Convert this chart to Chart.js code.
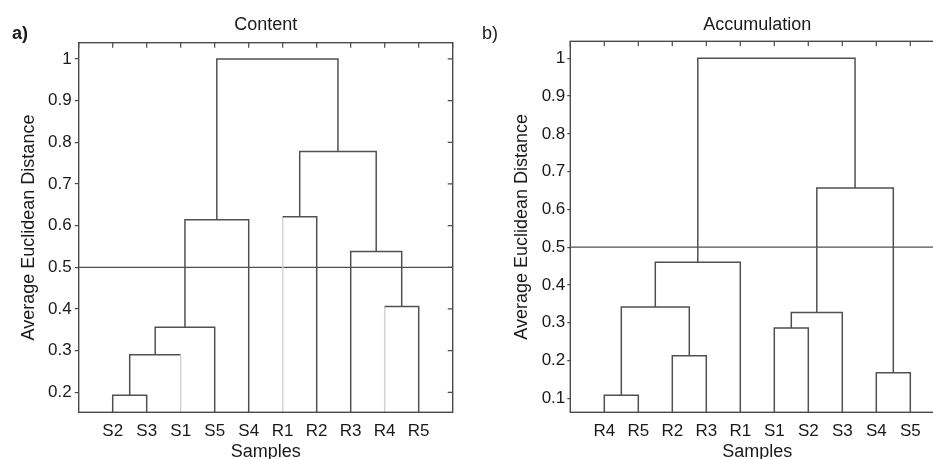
<!DOCTYPE html>
<html>
<head>
<meta charset="utf-8">
<script src="https://cdn.jsdelivr.net/npm/chart.js@4.4.1/dist/chart.umd.min.js"></script>
<style>
    html, body { margin: 0; padding: 0; background: #fff; }
    body { width: 933px; height: 459px; overflow: hidden; position: relative; }
    canvas { position: absolute; top: 0; }
    #contentChart { left: 0; }
    #accChart { left: 466px; }
</style>
</head>
<body>
<canvas id="contentChart" width="466" height="470"></canvas>
<canvas id="accChart" width="490" height="470"></canvas>
<script>
/* ===== Data ===== */

// leaf order as drawn on the x axis
var contentLeaves = ['S2', 'S3', 'S1', 'S5', 'S4', 'R1', 'R2', 'R3', 'R4', 'R5'];
// links: [left node, right node, height]; leaves are 1..10, clusters 11.. in order
var contentLinks = [
    [1, 2, 0.193],
    [11, 3, 0.290],
    [12, 4, 0.356],
    [13, 5, 0.614],
    [6, 7, 0.621],
    [9, 10, 0.406],
    [8, 16, 0.538],
    [15, 17, 0.778],
    [14, 18, 1.000]
];

var accLeaves = ['R4', 'R5', 'R2', 'R3', 'R1', 'S1', 'S2', 'S3', 'S4', 'S5'];
var accLinks = [
    [1, 2, 0.108],
    [3, 4, 0.213],
    [11, 12, 0.342],
    [13, 5, 0.460],
    [6, 7, 0.286],
    [15, 8, 0.327],
    [9, 10, 0.168],
    [16, 17, 0.657],
    [14, 18, 1.000]
];

var cutHeight = 0.5;
var yTicks = [0.1, 0.2, 0.3, 0.4, 0.5, 0.6, 0.7, 0.8, 0.9, 1];

// leaves whose drop line comes out pale in the original
var contentPale = ['S1', 'R1', 'R4'];
var accPale = [];


/* ===== Style ===== */

var lineColor = '#505050';
var paleColor = '#d2d2d2';
var textColor = '#1a1a1a';
var fontFamily = '"Liberation Sans", Arial, sans-serif';


/* ===== Dendrogram datasets ===== */

function buildDatasets(leaves, links, pale) {
    var n = leaves.length;
    var nodeX = {};
    var nodeH = {};
    leaves.forEach(function(name, i) {
        nodeX[i + 1] = i + 1;
        nodeH[i + 1] = 0;
    });

    var datasets = [];
    links.forEach(function(link, k) {
        var a = link[0], b = link[1], h = link[2];
        var id = n + k + 1;
        nodeX[id] = (nodeX[a] + nodeX[b]) / 2;
        nodeH[id] = h;
        var paleA = a <= n && pale.indexOf(leaves[a - 1]) >= 0;
        var paleB = b <= n && pale.indexOf(leaves[b - 1]) >= 0;
        datasets.push({
            data: [
                { x: nodeX[a], y: nodeH[a] },
                { x: nodeX[a], y: h },
                { x: nodeX[b], y: h },
                { x: nodeX[b], y: nodeH[b] }
            ],
            borderColor: lineColor,
            borderWidth: 1.5,
            pointRadius: 0,
            tension: 0,
            segment: {
                borderColor: function(ctx) {
                    if (ctx.p0DataIndex === 0 && paleA) return paleColor;
                    if (ctx.p0DataIndex === 2 && paleB) return paleColor;
                    return lineColor;
                }
            }
        });
    });

    datasets.push({
        data: [{ x: 0, y: cutHeight }, { x: n + 1, y: cutHeight }],
        borderColor: lineColor,
        borderWidth: 1.3,
        pointRadius: 0
    });
    return datasets;
}


/* ===== Frame, inward ticks, panel text ===== */

var framePlugin = {
    id: 'frame',
    afterDatasetsDraw: function(chart, args, opts) {
        var ctx = chart.ctx;
        var area = chart.chartArea;
        var xs = chart.scales.x;
        var ys = chart.scales.y;
        ctx.save();
        ctx.strokeStyle = '#4a4a4a';
        ctx.lineWidth = 1.4;
        ctx.strokeRect(area.left, area.top, area.right - area.left, area.bottom - area.top);

        ctx.lineWidth = 1.2;
        ctx.beginPath();
        for (var i = 0; i <= opts.leafCount + 1; i++) {
            var px = xs.getPixelForValue(i);
            ctx.moveTo(px, area.top);
            ctx.lineTo(px, area.top + 5);
        }
        ys.ticks.forEach(function(t) {
            var py = ys.getPixelForValue(t.value);
            ctx.moveTo(area.right, py);
            ctx.lineTo(area.right - 5, py);
        });
        ctx.stroke();

        ctx.fillStyle = textColor;
        ctx.font = '18px ' + fontFamily;
        ctx.textBaseline = 'alphabetic';
        ctx.textAlign = 'center';
        ctx.fillText(opts.title, (area.left + area.right) / 2, opts.titleY);
        ctx.textAlign = 'left';
        ctx.font = opts.letterFont + ' ' + fontFamily;
        ctx.fillText(opts.letter, opts.letterX, 39);
        ctx.restore();
    }
};


/* ===== Charts ===== */

function makeChart(canvasId, leaves, links, pale, cfg) {
    var canvas = document.getElementById(canvasId);
    var ticksForAxis = yTicks.filter(function(v) { return v >= cfg.yMin && v <= cfg.yMax; });

    return new Chart(canvas, {
        type: 'line',
        data: { datasets: buildDatasets(leaves, links, pale) },
        options: {
            responsive: false,
            animation: false,
            events: [],
            layout: { padding: { top: cfg.top, right: cfg.right, bottom: 0, left: 0 } },
            plugins: {
                legend: { display: false },
                tooltip: { enabled: false },
                frame: {
                    leafCount: leaves.length,
                    title: cfg.title,
                    titleY: cfg.titleY,
                    letter: cfg.letter,
                    letterX: cfg.letterX,
                    letterFont: cfg.letterFont
                }
            },
            scales: {
                x: {
                    type: 'linear',
                    min: 0,
                    max: leaves.length + 1,
                    grid: { display: false },
                    border: { display: false },
                    afterBuildTicks: function(s) {
                        s.ticks = leaves.map(function(_, i) { return { value: i + 1 }; });
                    },
                    afterFit: function(s) { s.height = cfg.xHeight; },
                    ticks: {
                        autoSkip: false,
                        maxRotation: 0,
                        padding: 0.5,
                        color: textColor,
                        font: { family: fontFamily, size: 17 },
                        callback: function(v) { return leaves[v - 1] || ''; }
                    },
                    title: {
                        display: true,
                        text: 'Samples',
                        color: textColor,
                        font: { family: fontFamily, size: 18, lineHeight: 1.2 },
                        padding: { top: 0, bottom: 7.5 }
                    }
                },
                y: {
                    type: 'linear',
                    min: cfg.yMin,
                    max: cfg.yMax,
                    grid: { drawOnChartArea: false, drawTicks: true, tickLength: cfg.tickLen, color: '#4a4a4a', lineWidth: 1.2 },
                    border: { display: false },
                    afterBuildTicks: function(s) {
                        s.ticks = ticksForAxis.map(function(v) { return { value: v }; });
                    },
                    afterFit: function(s) { s.width = cfg.yWidth; },
                    ticks: {
                        padding: cfg.tickPad,
                        color: textColor,
                        font: { family: fontFamily, size: 17 },
                        callback: function(v) { return String(+v.toFixed(1)); }
                    },
                    title: {
                        display: true,
                        text: 'Average Euclidean Distance',
                        color: textColor,
                        font: { family: fontFamily, size: 18, lineHeight: 1.2 },
                        padding: { top: cfg.yTitlePad, bottom: 0 }
                    }
                }
            }
        },
        plugins: [framePlugin]
    });
}

makeChart('contentChart', contentLeaves, contentLinks, contentPale, {
    title: 'Content', titleY: 29.5, letter: 'a)', letterX: 12, letterFont: 'bold 18px',
    top: 42.7, right: 13.3, yWidth: 78.7, xHeight: 57.7,
    yMin: 0.152, yMax: 1.039, tickLen: 4, tickPad: 3, yTitlePad: 18.5
});

makeChart('accChart', accLeaves, accLinks, accPale, {
    title: 'Accumulation', titleY: 30, letter: 'b)', letterX: 16, letterFont: '18px',
    top: 41.3, right: 11.7, yWidth: 104.3, xHeight: 57.7,
    yMin: 0.063, yMax: 1.045, tickLen: 3, tickPad: 2, yTitlePad: 45.5
});
</script>
</body>
</html>
